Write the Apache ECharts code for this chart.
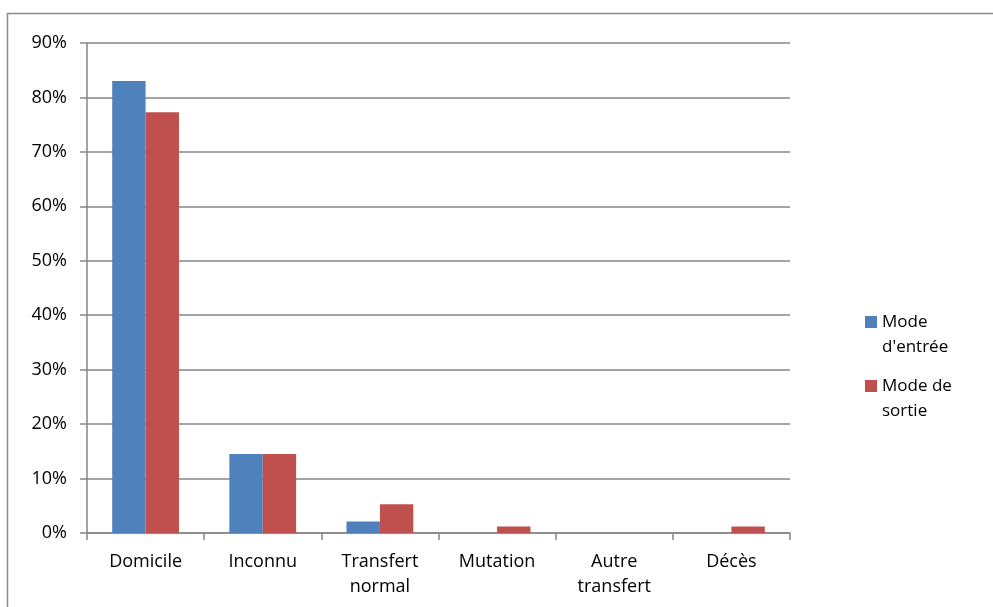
<!DOCTYPE html>
<html>
<head>
<meta charset="utf-8">
<script src="https://cdn.jsdelivr.net/npm/echarts@6/dist/echarts.min.js"></script>
<style>html,body{margin:0;padding:0;background:#fff;}#c{width:993px;height:607px;}</style>
</head>
<body>
<div id="c"></div>
<script>
const categories = ['Domicile', 'Inconnu', 'Transfert\nnormal', 'Mutation', 'Autre\ntransfert', 'Décès'];
const seriesNames = ["Mode d'entrée", 'Mode de sortie'];
const legendLabels = ["Mode\nd'entrée", 'Mode de\nsortie'];
const modeEntree = [83.0, 14.5, 2.1, 0, 0, 0];
const modeSortie = [77.3, 14.5, 5.3, 1.2, 0, 1.2];
const yTicks = { min: 0, max: 90, interval: 10 };

const FONT = 'Open Sans';
const chart = echarts.init(document.getElementById('c'), null, { renderer: 'canvas' });
chart.setOption({
  animation: false,
  backgroundColor: '#fff',
  graphic: [{
    type: 'rect', silent: true, z: -1,
    shape: { x: 7.5, y: 13.5, width: 1000, height: 700 },
    style: { fill: 'none', stroke: '#8a8a8a', lineWidth: 1.5 }
  }],
  grid: { left: 87, right: 203, top: 43, bottom: 74 },
  legend: {
    orient: 'vertical',
    left: 865, top: 310, padding: 0,
    itemWidth: 12, itemHeight: 38, itemGap: 14,
    icon: 'path://M0,0L12,0L12,12L0,12Z M0,38L0.01,38L0.01,38.01Z',
    formatter: function (name) { return legendLabels[seriesNames.indexOf(name)]; },
    textStyle: { fontFamily: FONT, fontSize: 17, color: '#000', lineHeight: 25, padding: [0, 0, 0, 0] },
    data: seriesNames
  },
  xAxis: {
    type: 'category',
    data: categories,
    axisLine: { lineStyle: { color: '#868686', width: 1.5 } },
    axisTick: { show: true, length: 7, lineStyle: { color: '#868686', width: 1.5 } },
    axisLabel: { fontFamily: FONT, fontSize: 18, color: '#000', lineHeight: 25, margin: 16, interval: 0 }
  },
  yAxis: {
    type: 'value',
    min: yTicks.min, max: yTicks.max, interval: yTicks.interval,
    axisLine: { show: true, lineStyle: { color: '#868686', width: 1.5 } },
    axisTick: { show: true, length: 7, lineStyle: { color: '#868686', width: 1.5 } },
    splitLine: { show: true, lineStyle: { color: '#868686', width: 1.5 } },
    axisLabel: { formatter: '{value}%', fontFamily: FONT, fontSize: 18, color: '#000', margin: 20 }
  },
  series: [
    { name: seriesNames[0], type: 'bar', data: modeEntree, barGap: '0%', barCategoryGap: '43%',
      itemStyle: { color: '#4F81BD' } },
    { name: seriesNames[1], type: 'bar', data: modeSortie, barGap: '0%', barCategoryGap: '43%',
      itemStyle: { color: '#C0504D' } }
  ]
});
</script>
</body>
</html>
